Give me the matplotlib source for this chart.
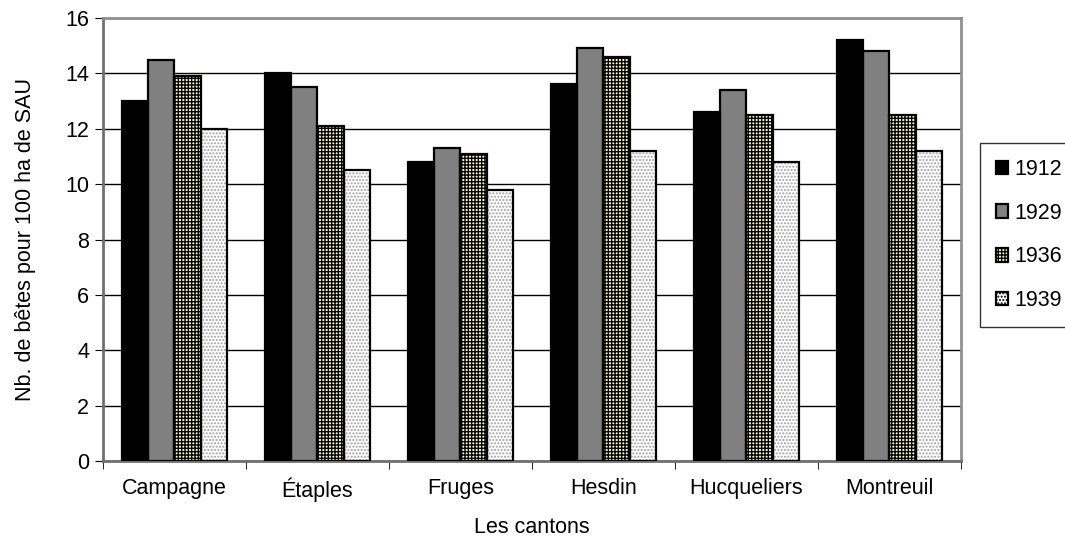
import numpy as np
import matplotlib.pyplot as plt
from matplotlib.patches import Patch

plt.rcParams['font.family'] = ['Liberation Sans', 'DejaVu Sans']
plt.rcParams['hatch.linewidth'] = 1.0

cantons = ['Campagne', 'Étaples', 'Fruges', 'Hesdin', 'Hucqueliers', 'Montreuil']
annees = ['1912', '1929', '1936', '1939']
v1912 = [13.0, 14.0, 10.8, 13.6, 12.6, 15.2]
v1929 = [14.5, 13.5, 11.3, 14.9, 13.4, 14.8]
v1936 = [13.9, 12.1, 11.1, 14.6, 12.5, 12.5]
v1939 = [12.0, 10.5, 9.8, 11.2, 10.8, 11.2]

series = [v1912, v1929, v1936, v1939]
couleurs = ['black', '#808080', '#ffffc0', 'white']
hachures = [None, None, '+++++', '.....']
coul_hach = ['black', 'black', 'black', '#a0a0a0']

fig = plt.figure(figsize=(10.65, 5.42), dpi=100)
ax = fig.add_axes([0.0967, 0.1494, 0.8056, 0.8174])

x = np.arange(len(cantons))
w = 0.183
fs = 15.5
for i, (vals, c, h) in enumerate(zip(series, couleurs, hachures)):
    pos = x + (i - 1.5) * w
    # fond + motif, puis contour noir
    ax.bar(pos, vals, w, color=c, edgecolor=coul_hach[i], linewidth=0,
           hatch=h, zorder=3)
    ax.bar(pos, vals, w, fill=False, edgecolor='black', linewidth=1.6, zorder=4)

# poignées de légende
poignees = [Patch(facecolor=couleurs[i], edgecolor='black', hatch=hachures[i],
                  linewidth=1.6) for i in range(4)]

ax.set_ylim(0, 16)
ax.set_xlim(-0.5, len(cantons) - 0.5)
ax.set_yticks(np.arange(0, 17, 2))
ax.yaxis.grid(True, color='black', linewidth=1, zorder=0)
ax.set_xticks(x)
ax.set_xticklabels(cantons, fontsize=fs)
ax.tick_params(axis='x', length=0, pad=12)
ax.set_xticks(np.arange(-0.5, len(cantons), 1), minor=True)
ax.tick_params(axis='x', which='minor', length=6, direction='out', color='black')
ax.tick_params(axis='y', labelsize=fs, length=6, direction='out', color='black', pad=4)
for s in ax.spines.values():
    s.set_color('#909090')
    s.set_linewidth(2)
ax.spines['left'].set_color('#707070')
ax.spines['bottom'].set_color('#707070')

ax.set_xlabel('Les cantons', fontsize=fs, labelpad=11)
ax.set_ylabel('Nb. de bêtes pour 100 ha de SAU', fontsize=fs, labelpad=21)

leg = ax.legend(poignees, annees, loc='center left', bbox_to_anchor=(1.022, 0.51),
                fontsize=fs, frameon=True, fancybox=False, edgecolor='black',
                handlelength=0.55, handleheight=0.6, handletextpad=0.3,
                labelspacing=1.05, borderpad=0.75, borderaxespad=0)
leg.get_frame().set_linewidth(1)

fig.savefig('out.png', dpi=100)
